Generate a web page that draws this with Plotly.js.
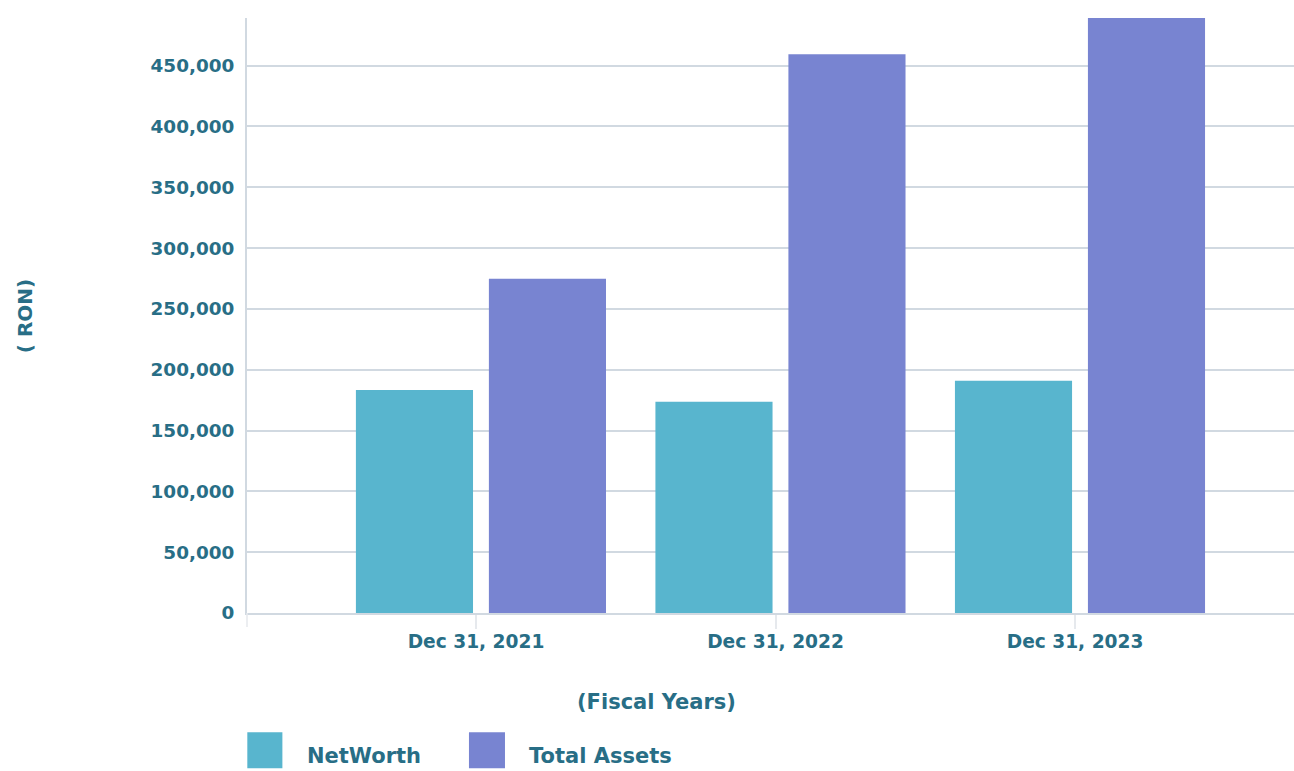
<!DOCTYPE html>
<html>
<head>
<meta charset="utf-8">
<script src="https://cdn.plot.ly/plotly-3.0.1.min.js"></script>
<style>html,body{margin:0;padding:0;background:#fff;}#chart{width:1294px;height:771px;}</style>
</head>
<body>
<div id="chart"></div>
<script>
// Data
var categories = ["Dec 31, 2021", "Dec 31, 2022", "Dec 31, 2023"];
var netWorth = [183400, 173600, 190900];
var totalAssets = [274800, 459300, 489200];
var seriesNames = ["NetWorth", "Total Assets"];
var yTitleText = "( RON)";
var xTitleText = "(Fiscal Years)";

var TEXT = "#286e86";
var GRID = "#d1d9e1";
var C_NW = "#58b5ce";
var C_TA = "#7884d1";
var FONT = {family: "DejaVu Sans", size: 18.6, color: TEXT, weight: "bold"};
var YFONT = {family: "DejaVu Sans", size: 18.4, color: TEXT, weight: "bold"};

var traces = [
  {type: "bar", name: seriesNames[0], x: categories, y: netWorth,
   marker: {color: C_NW, line: {width: 0}}, width: 0.391, offset: -0.401,
   hoverinfo: "x+y+name", showlegend: false},
  {type: "bar", name: seriesNames[1], x: categories, y: totalAssets,
   marker: {color: C_TA, line: {width: 0}}, width: 0.391, offset: 0.043,
   hoverinfo: "x+y+name", showlegend: false}
];

var layout = {
  width: 1294, height: 771,
  margin: {l: 247, r: 0, t: 18, b: 158, pad: 0},
  paper_bgcolor: "#ffffff", plot_bgcolor: "#ffffff",
  font: FONT,
  barmode: "overlay",
  showlegend: false,
  xaxis: {
    type: "category",
    range: [-0.7646, 2.731],
    showgrid: false,
    showline: true, linecolor: GRID, linewidth: 2,
    ticks: "outside", ticklen: 14, tickwidth: 1.5, tickcolor: "#e6e9ed",
    ticklabelstandoff: -3,
    tickfont: FONT,
    zeroline: false,
    fixedrange: true
  },
  yaxis: {
    range: [0, 489200],
    dtick: 50000, tick0: 0,
    tickformat: ",d",
    showgrid: true, gridcolor: GRID, gridwidth: 2,
    showline: true, linecolor: GRID, linewidth: 2,
    zeroline: false,
    ticks: "", ticklabelstandoff: 7,
    tickfont: YFONT,
    fixedrange: true
  },
  shapes: [
    {type: "line", xref: "paper", yref: "paper", x0: 0, x1: 0, y0: 0, y1: -0.0235,
     line: {color: "#e6e9ed", width: 1.5}},
    {type: "rect", xref: "paper", yref: "paper", x0: 0.0003, x1: 0.0338, y0: -0.2005, y1: -0.2610,
     fillcolor: C_NW, line: {width: 0}},
    {type: "rect", xref: "paper", yref: "paper", x0: 0.2120, x1: 0.2464, y0: -0.2005, y1: -0.2610,
     fillcolor: C_TA, line: {width: 0}}
  ],
  annotations: [
    {text: yTitleText, xref: "paper", yref: "paper", x: -0.212, y: 0.499,
     xanchor: "center", yanchor: "middle", textangle: -90, showarrow: false,
     font: {family: "DejaVu Sans", size: 20, color: TEXT, weight: "bold"}},
    {text: xTitleText, xref: "paper", yref: "paper", x: 0.3912, y: -0.1496,
     xanchor: "center", yanchor: "middle", showarrow: false,
     font: {family: "DejaVu Sans", size: 21, color: TEXT, weight: "bold"}},
    {text: seriesNames[0], xref: "paper", yref: "paper", x: 0.0555, y: -0.2395,
     xanchor: "left", yanchor: "middle", showarrow: false,
     font: {family: "DejaVu Sans", size: 21, color: TEXT, weight: "bold"}},
    {text: seriesNames[1], xref: "paper", yref: "paper", x: 0.2675, y: -0.2395,
     xanchor: "left", yanchor: "middle", showarrow: false,
     font: {family: "DejaVu Sans", size: 21, color: TEXT, weight: "bold"}}
  ]
};

Plotly.newPlot("chart", traces, layout, {displayModeBar: false, responsive: false});
</script>
</body>
</html>
